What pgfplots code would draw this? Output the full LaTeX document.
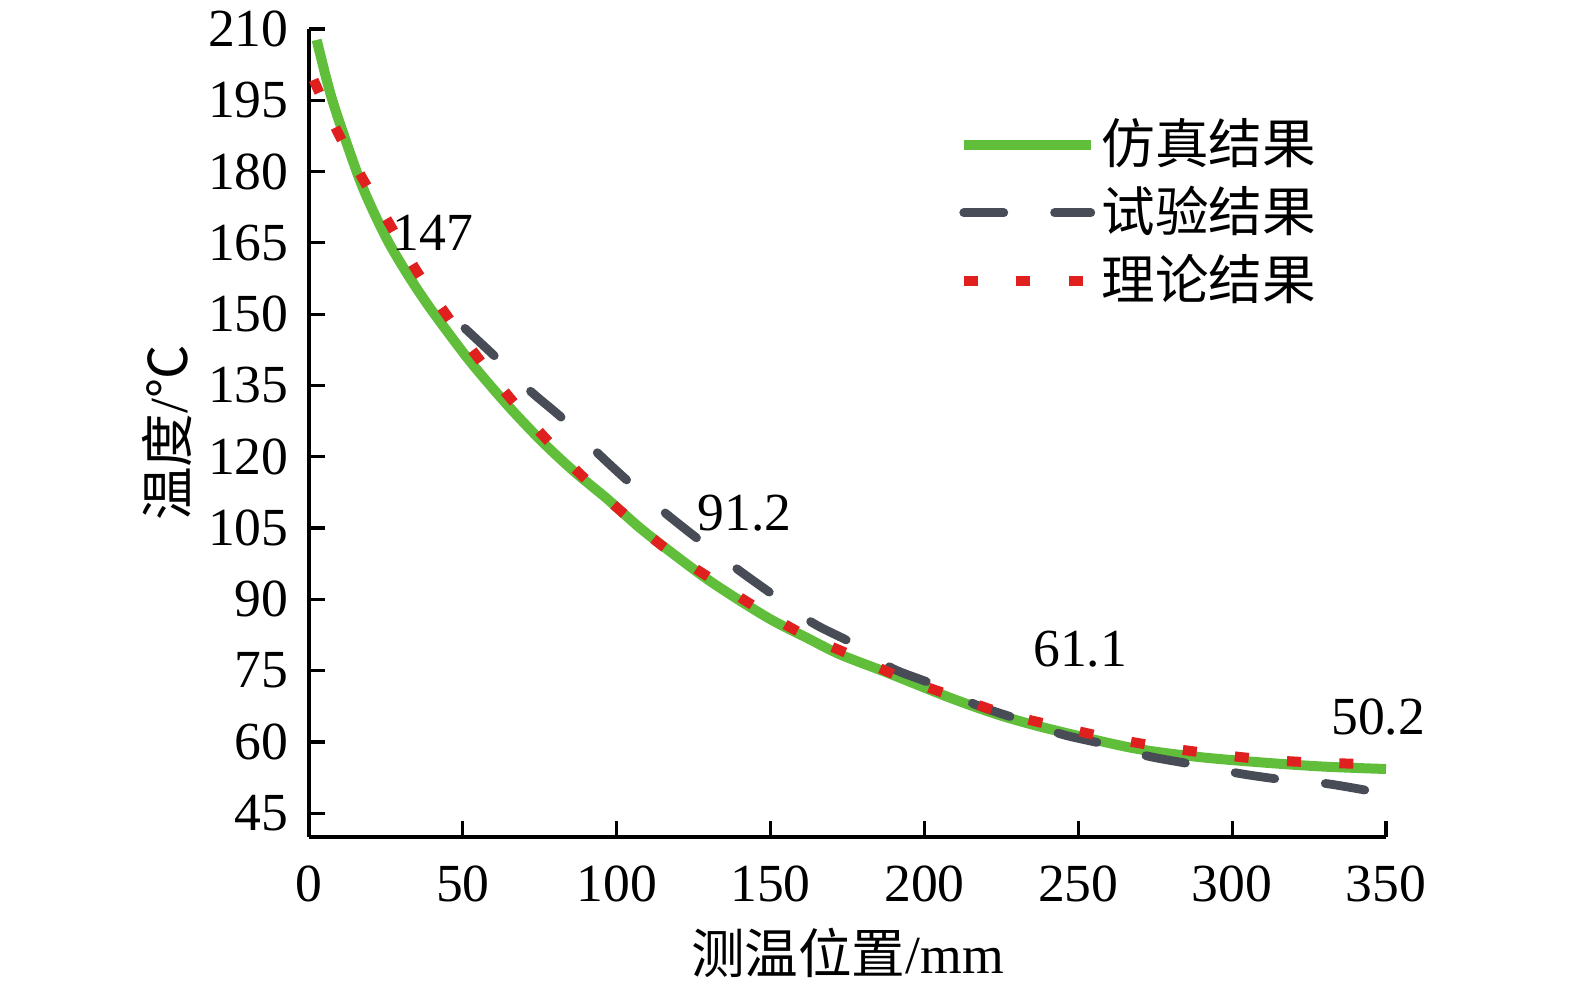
\documentclass[border=0pt]{standalone}
\usepackage{pgfplots}
\pgfplotsset{compat=1.18}
\usepackage{fontspec}
\setmainfont{Liberation Serif}
\newfontfamily\cjk{Noto Sans CJK SC}
\definecolor{simgreen}{RGB}{96,190,58}
\definecolor{expgray}{RGB}{72,76,86}
\definecolor{thred}{RGB}{224,32,30}
\newcommand\fs{\fontsize{13.4}{16}\selectfont}
\begin{document}
\begin{tikzpicture}
\begin{axis}[
  scale only axis,
  width=269.25pt, height=202pt,
  xmin=0, xmax=350, ymin=40, ymax=210,
  axis lines=left,
  axis line style={line width=0.9pt, -},
  xtick={0,50,...,350},
  ytick={45,60,...,210},
  tick align=inside,
  major tick length=4pt,
  tick style={line width=0.8pt, black},
  /pgf/number format/assume math mode=true,
  tick label style={font=\fs},
  xticklabel style={yshift=-3.6pt},
  yticklabel style={xshift=-1.6pt},
  label style={font=\fs},
  xlabel={{\cjk 测温位置}/mm},
  ylabel={{\cjk 温度}/{\cjk ℃}},
  xlabel style={at={(axis description cs:0.5,0)}, anchor=center, yshift=-29pt},
  ylabel style={at={(axis description cs:-0.132,0.5)}, anchor=center},
  clip=false,
  legend style={at={(rel axis cs:0.6026,0.898)}, anchor=north west, draw=none, fill=none,
    inner sep=0pt, row sep=0.7pt, font=\fs, legend cell align=left,
    nodes={inner sep=1.5pt, text depth=0.2em}},
  legend image code/.code={\draw[#1] (0pt,0pt) -- (31.75pt,0pt);},
]
\addplot[simgreen, line width=2.5pt, smooth] coordinates {
(2.5,207.7) (7.5,195.2) (15.6,179.8) (20,172.9) (25.7,165.3) (32.2,158.2) (39,151.6)
(46.5,145.0) (53.3,139.3) (64.3,131.0) (75.1,123.6) (85.8,117.1) (96.8,111.2)
(107.6,105.0) (118.3,99.6) (129.3,94.3) (140.1,89.7) (150.8,85.5) (161.8,81.9)
(172.6,78.4) (187.8,74.6) (208.3,69.3) (224.6,65.6) (240.8,62.7) (267.8,58.7)
(289.6,56.8) (311.3,55.6) (330,54.8) (350,54.3)
};
\addlegendentry{\cjk 仿真结果}
\addplot[expgray, line width=2.2pt, smooth, line cap=round, dash pattern=on 10pt off 12.7pt] coordinates {
(50.7,147.0) (61.1,140.7) (71.8,133.9) (82.5,128.0) (93.6,120.9) (104.3,114.5)
(115.7,108.2) (126.4,102.7) (139.1,96.4) (150.5,91.1) (163.8,85.0) (176.5,80.8)
(189.5,75.5) (202.5,72.2) (216.4,67.9) (229.4,65.0) (244.7,61.6) (258.7,59.5)
(272.7,57.0) (287,55.3) (302,53.4) (316,52.1) (331,51.2) (345.5,49.6)
};
\addlegendentry{\cjk 试验结果}
\addplot[thred, line width=2.5pt, smooth, line cap=butt, dash pattern=on 3.5pt off 9.6pt] coordinates {
(1.5,199.3) (9,188.7) (17.1,178.9) (25.8,169.4) (34.5,159.6) (44.2,150.3) (54.6,141.1)
(65.3,132.4) (76.7,124.0) (88.7,116.0) (102,108.2) (115.7,100.8) (130.3,94.5)
(145.6,88.2) (160.5,82.7) (176.8,78.1) (192.6,73.5) (209.4,69.6) (226.3,65.9)
(243,63.3) (259.7,60.9) (277.6,58.9) (295,57.4) (312.3,56.2) (329.5,55.6) (348,55.3)
};
\addlegendentry{\cjk 理论结果}
\node[font=\fs] at (axis cs:40.3,167.2) {147};
\node[font=\fs] at (axis cs:141.6,108.2) {91.2};
\node[font=\fs] at (axis cs:250.6,79.5) {61.1};
\node[font=\fs] at (axis cs:347.5,65.2) {50.2};
\end{axis}
\pgfresetboundingbox
\useasboundingbox (-77.25pt,-38.5pt) rectangle (316.5pt,209.25pt);
\end{tikzpicture}
\end{document}
